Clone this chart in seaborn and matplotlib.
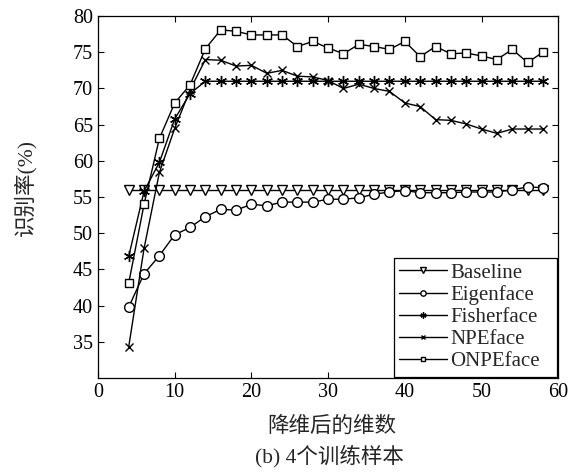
import numpy as np
import pandas as pd
import matplotlib
matplotlib.use('Agg')
import matplotlib.pyplot as plt
import seaborn as sns

# 降维后的维数
dims = [4, 6, 8, 10, 12, 14, 16, 18, 20, 22, 24, 26, 28, 30,
        32, 34, 36, 38, 40, 42, 44, 46, 48, 50, 52, 54, 56, 58]

baseline = [56.0, 56.0, 56.0, 56.0, 56.0, 56.0, 56.0, 56.0, 56.0, 56.0, 56.0, 56.0, 56.0, 56.0,
            56.0, 56.0, 56.0, 56.0, 56.0, 56.0, 56.0, 56.0, 56.0, 56.0, 56.0, 56.0, 56.0, 56.0]
eigenface = [39.8, 44.4, 46.9, 49.8, 50.8, 52.3, 53.3, 53.2, 54.0, 53.8, 54.3, 54.3, 54.3, 54.7,
             54.7, 54.9, 55.4, 55.7, 55.9, 55.6, 55.6, 55.6, 55.7, 55.7, 55.7, 56.0, 56.4, 56.3]
fisherface = [46.8, 55.8, 59.8, 65.8, 69.3, 71.0, 71.0, 71.0, 71.0, 71.0, 71.0, 71.0, 71.0, 71.0,
              71.0, 71.0, 71.0, 71.0, 71.0, 71.0, 71.0, 71.0, 71.0, 71.0, 71.0, 71.0, 71.0, 71.0]
npeface = [34.3, 47.9, 58.4, 64.5, 69.8, 74.0, 73.9, 73.1, 73.2, 72.1, 72.5, 71.7, 71.6, 71.1,
           70.0, 70.6, 70.0, 69.6, 68.0, 67.5, 65.7, 65.6, 65.1, 64.4, 63.8, 64.4, 64.4, 64.4]
onpeface = [43.1, 54.0, 63.1, 68.0, 70.5, 75.5, 78.1, 77.9, 77.4, 77.4, 77.4, 75.8, 76.5, 75.6,
            74.8, 76.1, 75.8, 75.4, 76.5, 74.4, 75.8, 74.8, 74.9, 74.5, 74.0, 75.4, 73.6, 75.0]

series = {
    'Baseline': (baseline, 'v', 7),
    'Eigenface': (eigenface, 'o', 7),
    'Fisherface': (fisherface, (6, 2, 0), 8),
    'NPEface': (npeface, 'x', 6),
    'ONPEface': (onpeface, 's', 6),
}

sns.set_style('ticks')
plt.rcParams['font.family'] = ['Liberation Serif', 'Noto Sans CJK SC']

fig = plt.figure(figsize=(5.87, 4.74), dpi=100)
ax = fig.add_axes([0.167, 0.2025, 0.784, 0.7635])

for name, (vals, mk, ms) in series.items():
    sns.lineplot(x=dims, y=vals, ax=ax, color='black', linewidth=1.0,
                 marker=mk, markersize=ms, markerfacecolor='white',
                 markeredgecolor='black', markeredgewidth=1.0, label=name)

ax.set_xlim(0, 60)
ax.set_ylim(30, 80)
ax.set_xticks(range(0, 61, 10))
ax.set_yticks(range(35, 81, 5))
ax.tick_params(direction='in', top=True, right=True, labelsize=14.5,
               length=4, width=0.8, colors='black')
for sp in ax.spines.values():
    sp.set_color('black')
    sp.set_linewidth(0.9)

ax.set_ylabel('识别率(%)', fontsize=15.5)
ax.yaxis.set_label_coords(-0.135, 0.526)
ax.set_xlabel('降维后的维数', fontsize=15.5)
ax.xaxis.set_label_coords(0.508, -0.105)
fig.text(0.562, 1 - 456 / 474, '(b) 4个训练样本', ha='center', va='center', fontsize=15.5)

# legend box spans roughly x 395..557 px, bottom just above the x axis
leg = ax.legend(loc='lower left', bbox_to_anchor=(0.643, 0.004, 0.355, 0.3),
                mode='expand', fontsize=15, markerscale=0.55, handlelength=2.3,
                labelspacing=0.12, borderpad=0.25, handletextpad=0.15,
                borderaxespad=0.0, fancybox=False, edgecolor='black', framealpha=1)
leg.get_frame().set_linewidth(0.9)

fig.savefig('out.png', dpi=100)
